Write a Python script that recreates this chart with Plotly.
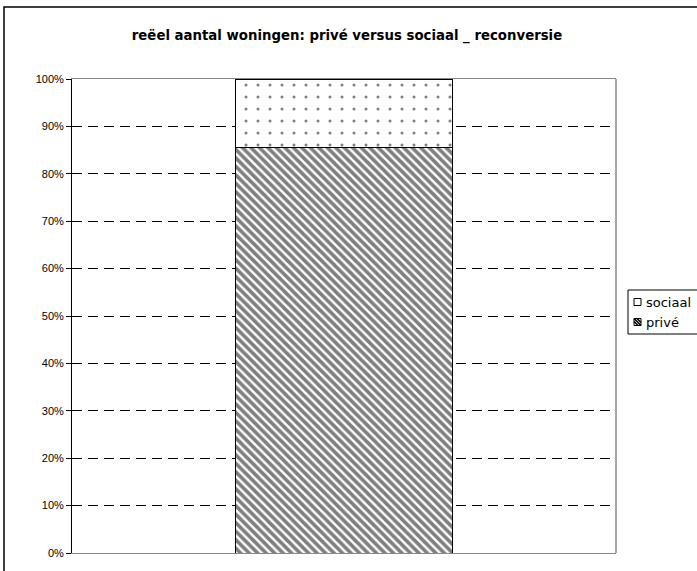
import plotly.graph_objects as go

# Share of dwellings per type (percent of total), single reconversion category
categories = ["reconversie"]
prive = [85.5]
sociaal = [14.5]
tick_vals = [0, 10, 20, 30, 40, 50, 60, 70, 80, 90, 100]
tick_text = [f"{v}%" for v in tick_vals]

W, H = 697, 571
L, R, T, B = 72, 81, 79, 18
pw, ph = W - L - R, H - T - B


def px_x(p):
    return (p - L) / pw


def px_y(p):
    return (H - B - p) / ph


fig = go.Figure()
fig.add_trace(go.Bar(
    x=categories, y=prive, name="privé", width=0.4, showlegend=False,
    marker=dict(color="white", line=dict(color="black", width=1),
                pattern=dict(shape="\\", size=6, solidity=0.6,
                             fgcolor="black", bgcolor="white", fillmode="overlay")),
))
fig.add_trace(go.Bar(
    x=categories, y=sociaal, name="sociaal", width=0.4, showlegend=False,
    marker=dict(color="white", line=dict(color="black", width=1),
                pattern=dict(shape=".", size=12, solidity=0.05,
                             fgcolor="black", bgcolor="white", fillmode="overlay")),
))

# Hand-built legend box (flush against the right edge of the chart frame)
leg_left, leg_top, leg_bottom = 628, 290, 334
rows = [("sociaal", 302, "open"), ("privé", 322, "hatch")]
sw = 7  # swatch size in px

shapes = [
    # right edge of the plot area
    dict(type="line", xref="paper", yref="paper", x0=1, x1=1, y0=0, y1=1,
         line=dict(color="#888888", width=1.5)),
    # outer chart frame
    dict(type="rect", xref="paper", yref="paper",
         x0=px_x(4), x1=px_x(720), y0=px_y(600), y1=px_y(7),
         line=dict(color="black", width=1.5), layer="below"),
    # legend frame
    dict(type="rect", xref="paper", yref="paper",
         x0=px_x(leg_left), x1=px_x(720), y0=px_y(leg_bottom), y1=px_y(leg_top),
         line=dict(color="black", width=1), fillcolor="white"),
]
annotations = []
for label, cy, kind in rows:
    x0, x1 = 634, 634 + sw
    y0, y1 = cy - sw / 2, cy + sw / 2
    shapes.append(dict(type="rect", xref="paper", yref="paper",
                       x0=px_x(x0), x1=px_x(x1), y0=px_y(y1), y1=px_y(y0),
                       line=dict(color="black", width=1), fillcolor="white"))
    if kind == "hatch":
        for off in (-3, 0, 3):
            a0 = max(0, off)
            b0 = max(0, -off)
            length = sw - abs(off)
            shapes.append(dict(type="line", xref="paper", yref="paper",
                               x0=px_x(x0 + a0), y0=px_y(y0 + b0),
                               x1=px_x(x0 + a0 + length), y1=px_y(y0 + b0 + length),
                               line=dict(color="black", width=1.6)))
    annotations.append(dict(text=label, xref="paper", yref="paper",
                            x=px_x(644), xanchor="left", y=px_y(cy), yanchor="middle",
                            showarrow=False,
                            font=dict(family="DejaVu Sans", size=13, color="black")))

fig.update_layout(
    width=W, height=H,
    margin=dict(l=L, r=R, t=T, b=B, autoexpand=False),
    barmode="stack",
    paper_bgcolor="white", plot_bgcolor="white",
    showlegend=False,
    title=dict(text="<b>reëel aantal woningen: privé versus sociaal _ reconversie</b>",
               x=px_x(347), xref="paper", xanchor="center",
               y=1 - 35 / H, yanchor="middle",
               font=dict(family="DejaVu Sans", size=13.3, color="black")),
    xaxis=dict(showticklabels=False, showgrid=False, zeroline=False,
               showline=True, linecolor="#888888", linewidth=1, mirror=True,
               ticks=""),
    yaxis=dict(range=[0, 100], tickvals=tick_vals, ticktext=tick_text,
               ticks="outside", ticklen=5, tickcolor="black",
               showline=True, linecolor="black", linewidth=1,
               showgrid=True, gridcolor="black", gridwidth=1, griddash="10px,6px",
               zeroline=False,
               tickfont=dict(family="Liberation Sans", size=11, color="black")),
    shapes=shapes,
    annotations=annotations,
)

fig.write_html("out.html")
